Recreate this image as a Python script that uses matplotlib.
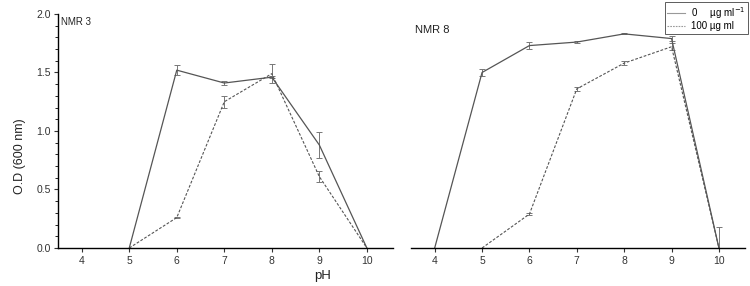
import matplotlib.pyplot as plt
from matplotlib.lines import Line2D
from matplotlib.ticker import MultipleLocator

plt.rcParams['font.family'] = ['Liberation Sans', 'DejaVu Sans']

# NMR 3
ph3 = [5, 6, 7, 8, 9, 10]
nmr3_ctrl = [0.0, 1.52, 1.41, 1.46, 0.88, 0.0]
nmr3_ctrl_err = [0.0, 0.04, 0.02, 0.01, 0.11, 0.0]
nmr3_treat = [0.0, 0.26, 1.25, 1.49, 0.61, 0.0]
nmr3_treat_err = [0.0, 0.005, 0.05, 0.08, 0.05, 0.0]

# NMR 8
ph8_ctrl = [4, 5, 6, 7, 8, 9, 10]
nmr8_ctrl = [0.0, 1.50, 1.73, 1.76, 1.83, 1.79, 0.0]
nmr8_ctrl_err = [0.0, 0.03, 0.03, 0.01, 0.005, 0.02, 0.0]
ph8_treat = [5, 6, 7, 8, 9, 10]
nmr8_treat = [0.0, 0.29, 1.36, 1.58, 1.72, 0.0]
nmr8_treat_err = [0.0, 0.01, 0.015, 0.02, 0.03, 0.18]

xticks = [4, 5, 6, 7, 8, 9, 10]
legend_labels = ['0     \u00b5g ml$^{-1}$', '100 \u00b5g ml']

line_col = '#555555'
err_col = '#777777'
dash = (0, (2.5, 1.5))

fig = plt.figure(figsize=(7.5, 2.86), dpi=100)
ax1 = fig.add_axes([0.0773, 0.1329, 0.4467, 0.8182])
ax2 = fig.add_axes([0.548, 0.1329, 0.4453, 0.8182])


def draw(ax, xs_c, yc, ec, xs_t, yt, et):
    ax.errorbar(xs_c, yc, yerr=ec, color=line_col, ecolor=err_col, lw=0.9,
                elinewidth=0.7, capsize=2.5, capthick=0.7, ls='-')
    ax.errorbar(xs_t, yt, yerr=et, color=line_col, ecolor=err_col, lw=0.8,
                elinewidth=0.7, capsize=2.5, capthick=0.7, ls=dash)
    ax.set_xlim(3.5, 10.55)
    ax.set_ylim(0, 2.0)
    ax.set_xticks(xticks)
    ax.spines['top'].set_visible(False)
    ax.spines['right'].set_visible(False)
    ax.spines['bottom'].set_linewidth(1.0)
    ax.tick_params(axis='x', direction='out', length=3, width=0.8,
                   labelsize=7.5, pad=3, colors='#333333')


draw(ax1, ph3, nmr3_ctrl, nmr3_ctrl_err, ph3, nmr3_treat, nmr3_treat_err)
draw(ax2, ph8_ctrl, nmr8_ctrl, nmr8_ctrl_err, ph8_treat, nmr8_treat, nmr8_treat_err)

ax1.set_yticks([0.0, 0.5, 1.0, 1.5, 2.0])
ax1.set_yticklabels(['0.0', '0.5', '1.0', '1.5', '2.0'])
ax1.yaxis.set_minor_locator(MultipleLocator(0.1))
ax1.tick_params(axis='y', which='major', direction='out', length=3, width=0.8,
                labelsize=7.5, pad=2, colors='#333333')
ax1.tick_params(axis='y', which='minor', direction='out', length=2, width=0.6)
ax1.spines['left'].set_linewidth(1.0)

ax2.spines['left'].set_visible(False)
ax2.set_yticks([])

ax1.text(0.01, 0.985, 'NMR 3', transform=ax1.transAxes, fontsize=7,
         va='top', ha='left', color='#222222')
ax2.text(0.012, 0.955, 'NMR 8', transform=ax2.transAxes, fontsize=8,
         va='top', ha='left', color='#222222')

fig.text(0.027, 0.455, 'O.D (600 nm)', rotation=90, fontsize=9,
         va='center', ha='center', color='#222222')
fig.text(0.43, 0.035, 'pH', fontsize=9.5, va='center', ha='center',
         color='#222222')

handles = [Line2D([], [], color='#999999', lw=0.8, ls='-'),
           Line2D([], [], color='#999999', lw=0.8, ls=(0, (1.5, 1.0)))]
leg = ax2.legend(handles, legend_labels, loc='upper right',
                 bbox_to_anchor=(1.008, 1.05), bbox_transform=ax2.transAxes,
                 fontsize=7, frameon=True, fancybox=False, handlelength=1.8,
                 handletextpad=0.6, borderpad=0.25, labelspacing=0.1,
                 borderaxespad=0)
leg.get_frame().set_edgecolor('#333333')
leg.get_frame().set_linewidth(0.7)

fig.savefig('out.png', dpi=100)
